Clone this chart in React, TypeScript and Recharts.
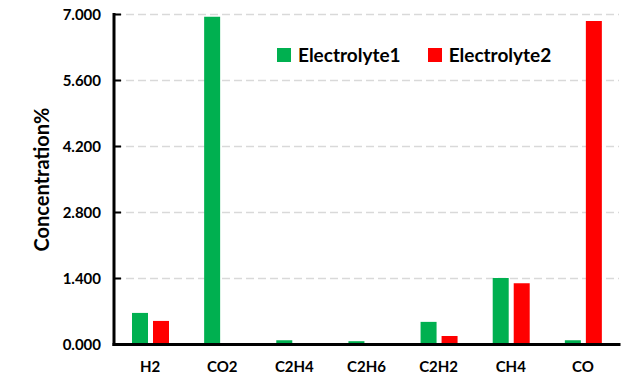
import React from 'react';
import { BarChart, Bar, XAxis, YAxis, CartesianGrid, Legend, Label } from 'recharts';

const categories = ['H2', 'CO2', 'C2H4', 'C2H6', 'C2H2', 'CH4', 'CO'];
const electrolyte1 = [0.67, 6.95, 0.09, 0.07, 0.48, 1.41, 0.09];
const electrolyte2 = [0.5, 0, 0, 0, 0.18, 1.3, 6.86];
const yTicks = [0, 1.4, 2.8, 4.2, 5.6, 7.0];
const seriesNames = ['Electrolyte1', 'Electrolyte2'];
const seriesColors = ['#00B050', '#FF0000'];

const data = categories.map((c, i) => ({ name: c, e1: electrolyte1[i], e2: electrolyte2[i] }));

const FONT = 'Lato, "Noto Sans", sans-serif';

const LegendContent = () => (
  <div style={{ display: 'flex', alignItems: 'center', fontFamily: FONT, fontWeight: 700, fontSize: 19, color: '#000', whiteSpace: 'nowrap' }}>
    {seriesNames.map((n, i) => (
      <div key={n} style={{ display: 'flex', alignItems: 'center', marginRight: i === 0 ? 27 : 0 }}>
        <div style={{ width: 14, height: 14, background: seriesColors[i], marginRight: 7 }} />
        <span style={{ lineHeight: '14px' }}>{n}</span>
      </div>
    ))}
  </div>
);

export default function App() {
  const axisLine = { stroke: '#000', strokeWidth: 3, strokeLinecap: 'square' as const };
  return (
    <div style={{ position: 'absolute', left: 0, top: 0, width: 623, height: 385, background: '#fff' }}>
      <BarChart
        width={623}
        height={385}
        data={data}
        margin={{ top: 14.5, right: 4, bottom: 0, left: 0 }}
        barSize={16}
        barGap={5}
        style={{ fontFamily: FONT }}
      >
        <CartesianGrid
          xAxisId="b"
          yAxisId="l"
          vertical={false}
          stroke="#d9d9d9"
          strokeWidth={1.5}
          strokeDasharray="8 4"
        />
        <XAxis
          xAxisId="b"
          dataKey="name"
          height={40.5}
          tickLine={false}
          tickSize={6}
          tickMargin={11}
          axisLine={axisLine}
          tick={{ fill: '#000', fontSize: 15, fontWeight: 700, fontFamily: FONT }}
          interval={0}
        />
        <XAxis xAxisId="t" dataKey="name" orientation="top" height={0} tick={false} tickLine={false} axisLine={axisLine} />
        <YAxis
          yAxisId="l"
          width={114}
          domain={[0, 7]}
          ticks={yTicks}
          interval={0}
          tickFormatter={(v: number) => v.toFixed(3)}
          tickSize={-7}
          tickMargin={20}
          tickLine={{ stroke: '#000', strokeWidth: 2 }}
          axisLine={axisLine}
          tick={{ fill: '#000', fontSize: 15, fontWeight: 700, fontFamily: FONT }}
        >
          <Label
            value="Concentration%"
            angle={-90}
            position="insideLeft"
            offset={42}
            style={{ textAnchor: 'middle', fill: '#000', fontSize: 20, fontWeight: 700, fontFamily: FONT }}
          />
        </YAxis>
        <YAxis yAxisId="r" orientation="right" width={0} domain={[0, 7]} tick={false} tickLine={false} axisLine={axisLine} />
        <Legend
          layout="horizontal"
          verticalAlign="middle"
          align="center"
          content={LegendContent}
          wrapperStyle={{ left: 277, top: 48, width: 'auto', height: 'auto' }}
        />
        <Bar xAxisId="b" yAxisId="l" dataKey="e1" name={seriesNames[0]} fill={seriesColors[0]} isAnimationActive={false} />
        <Bar xAxisId="b" yAxisId="l" dataKey="e2" name={seriesNames[1]} fill={seriesColors[1]} isAnimationActive={false} />
      </BarChart>
    </div>
  );
}
